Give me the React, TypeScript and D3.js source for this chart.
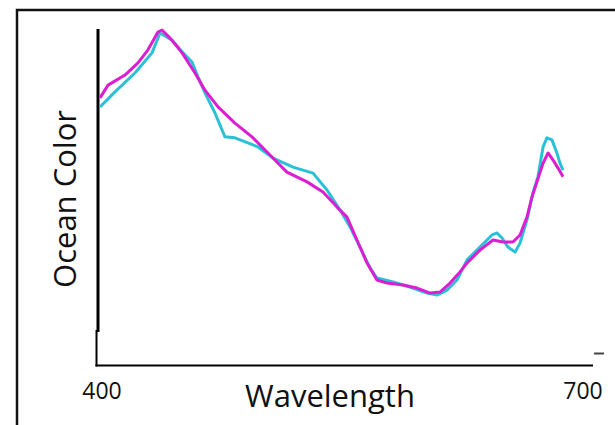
import React, { useRef, useEffect } from 'react';
import * as d3 from 'd3';

// values (wavelength in nm, ocean color in relative units 0-100)
const magentaNm = [400, 405, 415.5, 423.6, 429.8, 436, 438.5, 443.5, 451, 459, 465.2, 473.3, 483.8, 494.4, 506.8, 516.1, 528.6, 538.5, 547.2, 553.4, 559.6, 565.8, 572, 578.3, 588.2, 596.9, 605, 611.2, 617.4, 623.6, 628, 636, 644.1, 650.3, 656.5, 660.9, 665.2, 668.3, 671.4, 675.2, 678.3, 681.4, 684.5, 687.6];
const magentaVal = [79.5, 83.3, 86.3, 89.9, 93.8, 99.1, 99.7, 97.3, 92.9, 86.9, 81.8, 76.8, 72.0, 67.9, 61.9, 57.4, 54.5, 51.5, 47.0, 44.0, 37.2, 30.4, 25.3, 24.4, 23.8, 22.9, 21.4, 21.7, 24.4, 27.7, 30.4, 34.2, 37.2, 36.6, 36.6, 38.7, 44.0, 50.0, 54.5, 60.1, 63.1, 61.0, 58.6, 56.0];

const cyanNm = [400, 409.3, 421.7, 432.3, 437.3, 444.7, 451, 457.1, 460.9, 465.2, 471.4, 477.6, 483.8, 491.9, 498.1, 507.5, 519.9, 532.3, 541, 549.1, 555.3, 561.5, 567.7, 572, 582, 592.5, 603.1, 609.3, 615.5, 621.7, 628, 636, 643.5, 646.6, 649.7, 653.4, 657.8, 660.9, 665.2, 668.9, 672, 675.2, 677.6, 680.7, 683.8, 685.7, 687.6];
const cyanVal = [76.8, 81.3, 86.9, 92.9, 98.8, 96.7, 93.2, 90.2, 85.7, 81.0, 75.0, 67.9, 67.6, 66.1, 64.9, 61.6, 58.9, 57.1, 52.1, 46.1, 41.1, 35.1, 28.9, 25.9, 24.7, 23.2, 21.4, 20.8, 22.3, 25.3, 31.3, 35.1, 38.7, 39.3, 37.8, 35.1, 33.6, 36.3, 43.2, 51.2, 56.0, 64.9, 67.6, 67.0, 63.1, 60.1, 58.0];

const tickLabels = [400, 700];

export default function App() {
  const svgRef = useRef<SVGSVGElement>(null);

  useEffect(() => {
    const w = 615;
    const h = 425;
    const svg = d3.select(svgRef.current)
      .attr('width', w)
      .attr('height', h);
    svg.selectAll('*').remove();

    //scales
    const xScale = d3.scaleLinear().domain([400, 700]).range([100, 583]);
    const yScale = d3.scaleLinear().domain([0, 100]).range([365, 29]);

    //outer frame, cut off at right and bottom
    svg.append('rect')
      .attr('x', 17).attr('y', 10)
      .attr('width', 640).attr('height', 440)
      .attr('fill', 'white')
      .attr('stroke', '#111').attr('stroke-width', 2.5);

    //axes
    svg.append('line')
      .attr('x1', 98).attr('x2', 98).attr('y1', 29).attr('y2', 332)
      .attr('stroke', '#000').attr('stroke-width', 3);
    svg.append('line')
      .attr('x1', 96.5).attr('x2', 96.5).attr('y1', 330).attr('y2', 366.5)
      .attr('stroke', '#000').attr('stroke-width', 2);
    svg.append('line')
      .attr('x1', 95.5).attr('x2', 593).attr('y1', 365.5).attr('y2', 365.5)
      .attr('stroke', '#000').attr('stroke-width', 2);
    svg.append('line')
      .attr('x1', 594).attr('x2', 604).attr('y1', 353.5).attr('y2', 353.5)
      .attr('stroke', '#444').attr('stroke-width', 2);

    //series
    const line = d3.line<[number, number]>()
      .x(d => xScale(d[0]))
      .y(d => yScale(d[1]));

    const series = [
      { nm: cyanNm, val: cyanVal, color: '#2cc0d6' },
      { nm: magentaNm, val: magentaVal, color: '#dc1ed2' },
    ];
    series.forEach(s => {
      const pts = s.nm.map((v, i) => [v, s.val[i]] as [number, number]);
      svg.append('path')
        .datum(pts)
        .attr('d', line)
        .attr('fill', 'none')
        .attr('stroke', s.color)
        .attr('stroke-width', 3)
        .attr('stroke-linejoin', 'round');
    });

    //labels
    const font = '"Open Sans", sans-serif';
    svg.selectAll('.tick-label')
      .data(tickLabels)
      .join('text')
      .attr('x', d => xScale(d) + (d === 400 ? 2 : 0))
      .attr('y', 399)
      .attr('text-anchor', 'middle')
      .style('font-family', font)
      .style('font-size', '23px')
      .attr('fill', '#111')
      .text(d => d);

    svg.append('text')
      .attr('x', 330).attr('y', 406.5)
      .attr('text-anchor', 'middle')
      .style('font-family', font)
      .style('font-size', '31px')
      .attr('fill', '#111')
      .text('Wavelength');

    svg.append('text')
      .attr('transform', 'translate(76,199) rotate(-90)')
      .attr('text-anchor', 'middle')
      .style('font-family', font)
      .style('font-size', '31px')
      .attr('fill', '#111')
      .text('Ocean Color');
  }, []);

  return (
    <div style={{ position: 'absolute', left: 0, top: 0 }}>
      <svg ref={svgRef} style={{ display: 'block' }}></svg>
    </div>
  );
}
